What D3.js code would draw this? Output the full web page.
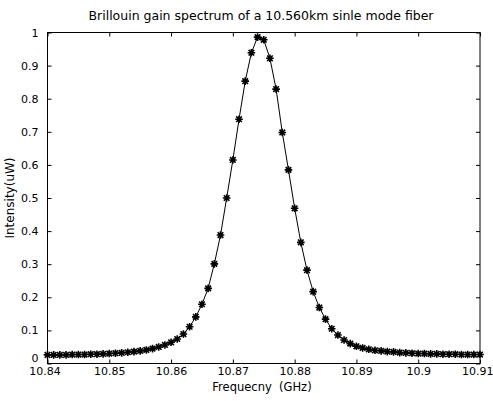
<!DOCTYPE html>
<html><head><meta charset="utf-8">
<script src="https://cdn.jsdelivr.net/npm/d3@7/dist/d3.min.js"></script>
<style>body{margin:0;background:#fff}svg{display:block}text{font-family:"DejaVu Sans",sans-serif;fill:#000}</style>
</head><body>
<script>
const title = "Brillouin gain spectrum of a 10.560km sinle mode fiber";
const xLabel = "Frequecny\u00a0 (GHz)";
const yLabel = "Intensity(uW)";
const xStart = 10.84, xStep = 0.001;
const intensity = [
 0.026,0.026,0.026,0.026,0.027,0.027,0.027,0.028,0.028,0.029,
 0.030,0.031,0.032,0.034,0.036,0.038,0.041,0.045,0.050,0.056,
 0.064,0.074,0.089,0.111,0.141,0.179,0.227,0.301,0.388,0.500,
 0.615,0.738,0.853,0.939,0.986,0.978,0.922,0.829,0.698,0.585,
 0.469,0.366,0.282,0.217,0.169,0.134,0.105,0.086,0.071,0.060,
 0.052,0.047,0.043,0.040,0.038,0.036,0.035,0.033,0.032,0.031,
 0.030,0.030,0.029,0.029,0.028,0.028,0.028,0.027,0.027,0.027,0.027];
const xTicks = [10.84,10.85,10.86,10.87,10.88,10.89,10.9,10.91];
const xTickLabels = ["10.84","10.85","10.86","10.87","10.88","10.89","10.9","10.91"];
const yTicks = [0,0.1,0.2,0.3,0.4,0.5,0.6,0.7,0.8,0.9,1];
const yTickLabels = ["0","0.1","0.2","0.3","0.4","0.5","0.6","0.7","0.8","0.9","1"];

const W=493,H=401, L=47.5, R=480, T=32.5, B=363.5;
const svg=d3.select("body").append("svg").attr("width",W).attr("height",H);
const x=d3.scaleLinear().domain([10.84,10.91]).range([L,R]);
const y=d3.scaleLinear().domain([0,1]).range([B,T]);
const data=intensity.map((v,i)=>({f:xStart+i*xStep,v}));

svg.append("rect").attr("x",L).attr("y",T).attr("width",R-L).attr("height",B-T)
 .attr("fill","none").attr("stroke","#000").attr("stroke-width",1);

const tl=4;
const gx=svg.append("g").attr("transform",`translate(0,${B})`)
 .call(d3.axisBottom(x).tickValues(xTicks).tickFormat((d,i)=>xTickLabels[i]).tickSizeInner(-tl).tickSizeOuter(0).tickPadding(4));
const gxt=svg.append("g").attr("transform",`translate(0,${T})`)
 .call(d3.axisTop(x).tickValues(xTicks).tickFormat("").tickSizeInner(-tl).tickSizeOuter(0));
const gy=svg.append("g").attr("transform",`translate(${L},0)`)
 .call(d3.axisLeft(y).tickValues(yTicks).tickFormat((d,i)=>yTickLabels[i]).tickSizeInner(-tl).tickSizeOuter(0).tickPadding(9));
const gyr=svg.append("g").attr("transform",`translate(${R},0)`)
 .call(d3.axisRight(y).tickValues(yTicks).tickFormat("").tickSizeInner(-tl).tickSizeOuter(0));
[gx,gxt,gy,gyr].forEach(g=>{g.select(".domain").remove();g.selectAll("line").attr("stroke","#000");
 g.selectAll("text").attr("font-size",11).attr("font-family","DejaVu Sans").attr("fill","#000");});
gx.selectAll(".tick text").filter((d,i)=>i===xTicks.length-1).attr("text-anchor","end").attr("dx","13");
gx.selectAll(".tick text").filter((d,i)=>i===0).attr("dx","-3");
gy.selectAll(".tick text").filter((d,i)=>i===0).attr("dy","-0.2em");

svg.append("path").datum(data).attr("fill","none").attr("stroke","#000").attr("stroke-width",1)
 .attr("d",d3.line().x(d=>x(d.f)).y(d=>y(d.v)));
const r=3.8, rd=2.8;
const mk=svg.append("g").attr("stroke","#000").attr("stroke-width",1.6);
data.forEach(d=>{
 const cx=x(d.f), cy=y(d.v);
 mk.append("path").attr("d",`M${cx-r},${cy}H${cx+r}M${cx},${cy-r}V${cy+r}M${cx-rd},${cy-rd}L${cx+rd},${cy+rd}M${cx-rd},${cy+rd}L${cx+rd},${cy-rd}`);
});

svg.append("text").attr("x",261).attr("y",20).attr("text-anchor","middle").attr("font-size",12.5).text(title);
svg.append("text").attr("x",262).attr("y",391).attr("text-anchor","middle").attr("font-size",11.5).text(xLabel);
svg.append("text").attr("transform",`translate(14,${(T+B)/2}) rotate(-90)`).attr("text-anchor","middle").attr("font-size",12).text(yLabel);
</script>
</body></html>
